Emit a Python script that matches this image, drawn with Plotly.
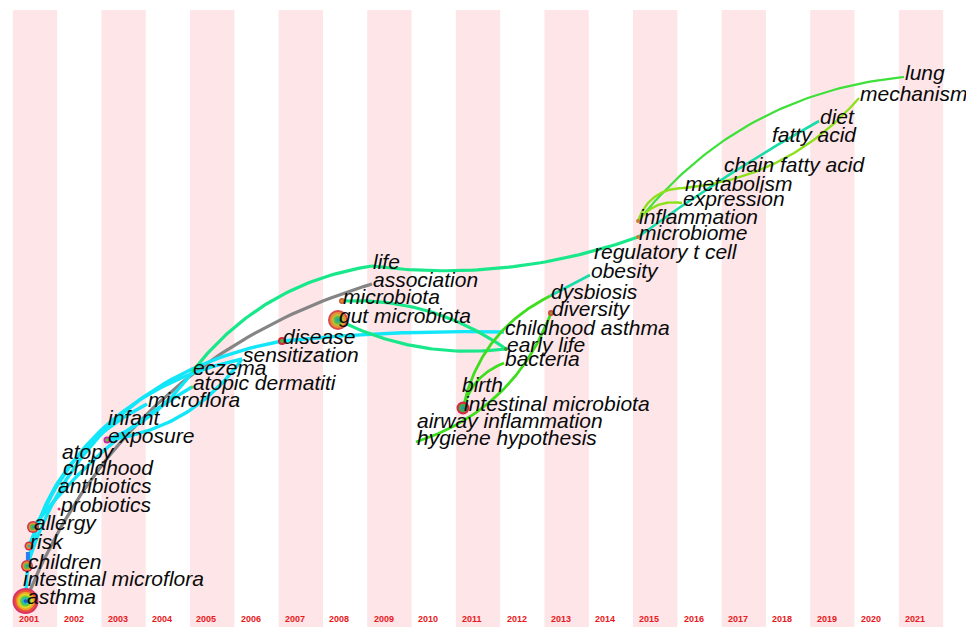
import numpy as np
import plotly.graph_objects as go

# ---------------- data ----------------
years = list(range(2001, 2022))

keywords = ["asthma", "intestinal microflora", "children", "risk", "allergy",
            "probiotics", "antibiotics", "childhood", "atopy",
            "exposure", "infant", "microflora", "atopic dermatiti", "eczema",
            "sensitization", "disease", "gut microbiota", "microbiota",
            "association", "life", "hygiene hypothesis", "airway inflammation",
            "intestinal microbiota", "birth", "bacteria", "early life",
            "childhood asthma", "diversity", "dysbiosis", "obesity",
            "regulatory t cell", "microbiome", "inflammation", "expression",
            "metabolism", "chain fatty acid", "fatty acid", "diet",
            "mechanism", "lung"]
# time coordinate (fractional year inside the time-zone column)
kw_time = [2000.786, 2000.707, 2000.819, 2000.865, 2000.955,
           2001.542, 2001.497, 2001.610, 2001.587,
           2002.625, 2002.625, 2003.528, 2004.544, 2004.544,
           2005.673, 2006.576, 2007.840, 2007.930,
           2008.607, 2008.607, 2009.600, 2009.600,
           2010.661, 2010.616, 2011.587, 2011.632,
           2011.587, 2012.648, 2012.625, 2013.528,
           2013.596, 2014.612, 2014.612, 2015.605,
           2015.650, 2016.530, 2017.614, 2018.698,
           2019.601, 2020.617]
# vertical layout coordinate
kw_level = [601, 583, 566, 546, 527,
            509, 490, 472, 456,
            440, 422, 404, 387, 372,
            359, 341, 320, 301,
            284, 266, 442, 425,
            408, 389, 363, 349,
            332, 313, 296, 275,
            256, 237, 221, 203,
            188, 169, 139, 121,
            98, 77]

# co-occurrence links (source, target)
edges = [("asthma", "association"),
         ("children", "disease"), ("risk", "sensitization"),
         ("asthma", "microflora"), ("allergy", "atopic dermatiti"),
         ("exposure", "eczema"), ("exposure", "sensitization"),
         ("disease", "childhood asthma"),
         ("eczema", "life"), ("life", "microbiome"),
         ("microbiota", "early life"), ("gut microbiota", "early life"),
         ("dysbiosis", "obesity"), ("microbiome", "diet"),
         ("hygiene hypothesis", "diversity"),
         ("intestinal microbiota", "dysbiosis"),
         ("intestinal microbiota", "bacteria"),
         ("inflammation", "lung"), ("inflammation", "metabolism"),
         ("inflammation", "expression"), ("metabolism", "mechanism")]
edge_group = ["gray", "cyan", "cyan", "cyan", "cyan", "cyan", "cyan", "cyan",
              "spring", "spring", "spring", "spring", "teal", "teal",
              "lime", "lime", "lime", "lgreen", "ygreen", "ygreen", "ygreen"]

# node frequencies (ring radius)
node_kw = ["asthma", "gut microbiota", "children", "allergy", "intestinal microbiota",
           "risk", "disease", "exposure", "microbiota", "diversity",
           "inflammation", "microbiome", "early life", "probiotics", "atopic dermatiti"]
node_size = [13, 10, 6, 6, 6.5, 4.5, 4, 3.5, 3, 3, 2, 2, 2, 1.5, 1.5]

# ---------------- styles ----------------
W, H = 966, 627
XR = (2000.210, 2000.210 + W / 44.3)
PX_PER_YEAR = 44.3
BAND = "#fde5e8"
edge_style = {
    "gray": ("#858585", 3.2),
    "cyan": ("#12e6f8", 3.4),
    "spring": ("#18e88a", 3.2),
    "teal": ("#18dca8", 2.6),
    "lime": ("#3ede1e", 2.8),
    "lgreen": ("#3ee03a", 2.2),
    "ygreen": ("#8de01a", 2.4),
}
edge_bend = [0.24, 0.30, 0.28, 0.30, 0.10, -0.15, -0.22, 0.03,
             0.20, -0.12, 0.17, -0.15, 0.0, 0.03,
             -0.24, 0.24, 0.25, 0.21, 0.35, 0.30, -0.2]
ring_palettes = {
    "asthma": ["#d8306a", "#e8503a", "#f0a028", "#d8d828", "#6cc83c", "#22c0b0", "#2458d8"],
    "gut microbiota": ["#d84848", "#e89038", "#b8c030", "#50b850", "#2aa8a0"],
    "children": ["#d03050", "#e09030", "#60b840", "#2aa0a0"],
    "allergy": ["#d03050", "#e09030", "#60b840", "#2aa0a0"],
    "intestinal microbiota": ["#d82848", "#40b040", "#2a9c9c"],
    "risk": ["#d03050", "#e09030", "#40a8a0"],
    "disease": ["#d02a3a", "#50b040"],
    "exposure": ["#d020b0", "#60c040"],
    "microbiota": ["#c86030", "#d89030"],
    "diversity": ["#c04a40", "#b08828"],
    "inflammation": ["#c88030"],
    "microbiome": ["#c88030"],
    "early life": ["#30a030"],
    "probiotics": ["#e03080"],
    "atopic dermatiti": ["#40e060"],
}

pos = {k: (t, l) for k, t, l in zip(keywords, kw_time, kw_level)}

fig = go.Figure()

# time-zone bands
for yr in years:
    if (yr - 2001) % 2 == 0:
        fig.add_shape(type="rect", xref="x", yref="y", x0=yr - 0.5, x1=yr + 0.5,
                      y0=10, y1=H, fillcolor=BAND, line_width=0, layer="below")


def bezier(p0, p2, bend, n=60):
    # work in pixel space
    x0, y0 = (p0[0] - XR[0]) * PX_PER_YEAR, p0[1]
    x2, y2 = (p2[0] - XR[0]) * PX_PER_YEAR, p2[1]
    dx, dy = x2 - x0, y2 - y0
    L = np.hypot(dx, dy)
    nx, ny = dy / L, -dx / L
    mx, my = (x0 + x2) / 2, (y0 + y2) / 2
    cx, cy = mx + nx * bend * L, my + ny * bend * L
    t = np.linspace(0, 1, n)
    bx = (1 - t) ** 2 * x0 + 2 * (1 - t) * t * cx + t ** 2 * x2
    by = (1 - t) ** 2 * y0 + 2 * (1 - t) * t * cy + t ** 2 * y2
    return bx / PX_PER_YEAR + XR[0], by


for (s, t), g, b in zip(edges, edge_group, edge_bend):
    col, w = edge_style[g]
    xs, ys = bezier(pos[s], pos[t], b)
    fig.add_trace(go.Scatter(x=xs, y=ys, mode="lines", line=dict(color=col, width=w),
                             hoverinfo="skip", showlegend=False))

# small blue burst bar near "risk"/"children"
fig.add_trace(go.Scatter(x=[2000.84, 2000.84], y=[552, 560], mode="lines",
                         line=dict(color="#2a7ef0", width=4), hoverinfo="skip",
                         showlegend=False))

# nodes (concentric rings)
for k, r in zip(node_kw, node_size):
    pal = ring_palettes[k]
    n = len(pal)
    for i, c in enumerate(pal):
        rr = r * (n - i) / n
        fig.add_trace(go.Scatter(x=[pos[k][0]], y=[pos[k][1]], mode="markers",
                                 marker=dict(size=2 * rr, color=c, line_width=0),
                                 hoverinfo="skip", showlegend=False))

# keyword labels
for k in keywords:
    t, l = pos[k]
    fig.add_annotation(x=t, y=l - 5, text=k, showarrow=False, xanchor="left",
                       yanchor="middle", borderpad=0,
                       font=dict(family="Liberation Sans", size=21, color="#0a0a0a",
                                 style="italic"))

# year labels
for yr in years:
    fig.add_annotation(x=yr - 0.129, y=619, text=str(yr), showarrow=False,
                       xanchor="center", yanchor="middle",
                       font=dict(family="Liberation Sans", size=9, color="#e81820",
                                 weight="bold"))

fig.update_layout(width=W, height=H, margin=dict(l=0, r=0, t=0, b=0),
                  paper_bgcolor="white", plot_bgcolor="white",
                  xaxis=dict(range=list(XR), visible=False, fixedrange=True),
                  yaxis=dict(range=[H, 0], visible=False, fixedrange=True),
                  showlegend=False)

fig.write_html("out.html")
